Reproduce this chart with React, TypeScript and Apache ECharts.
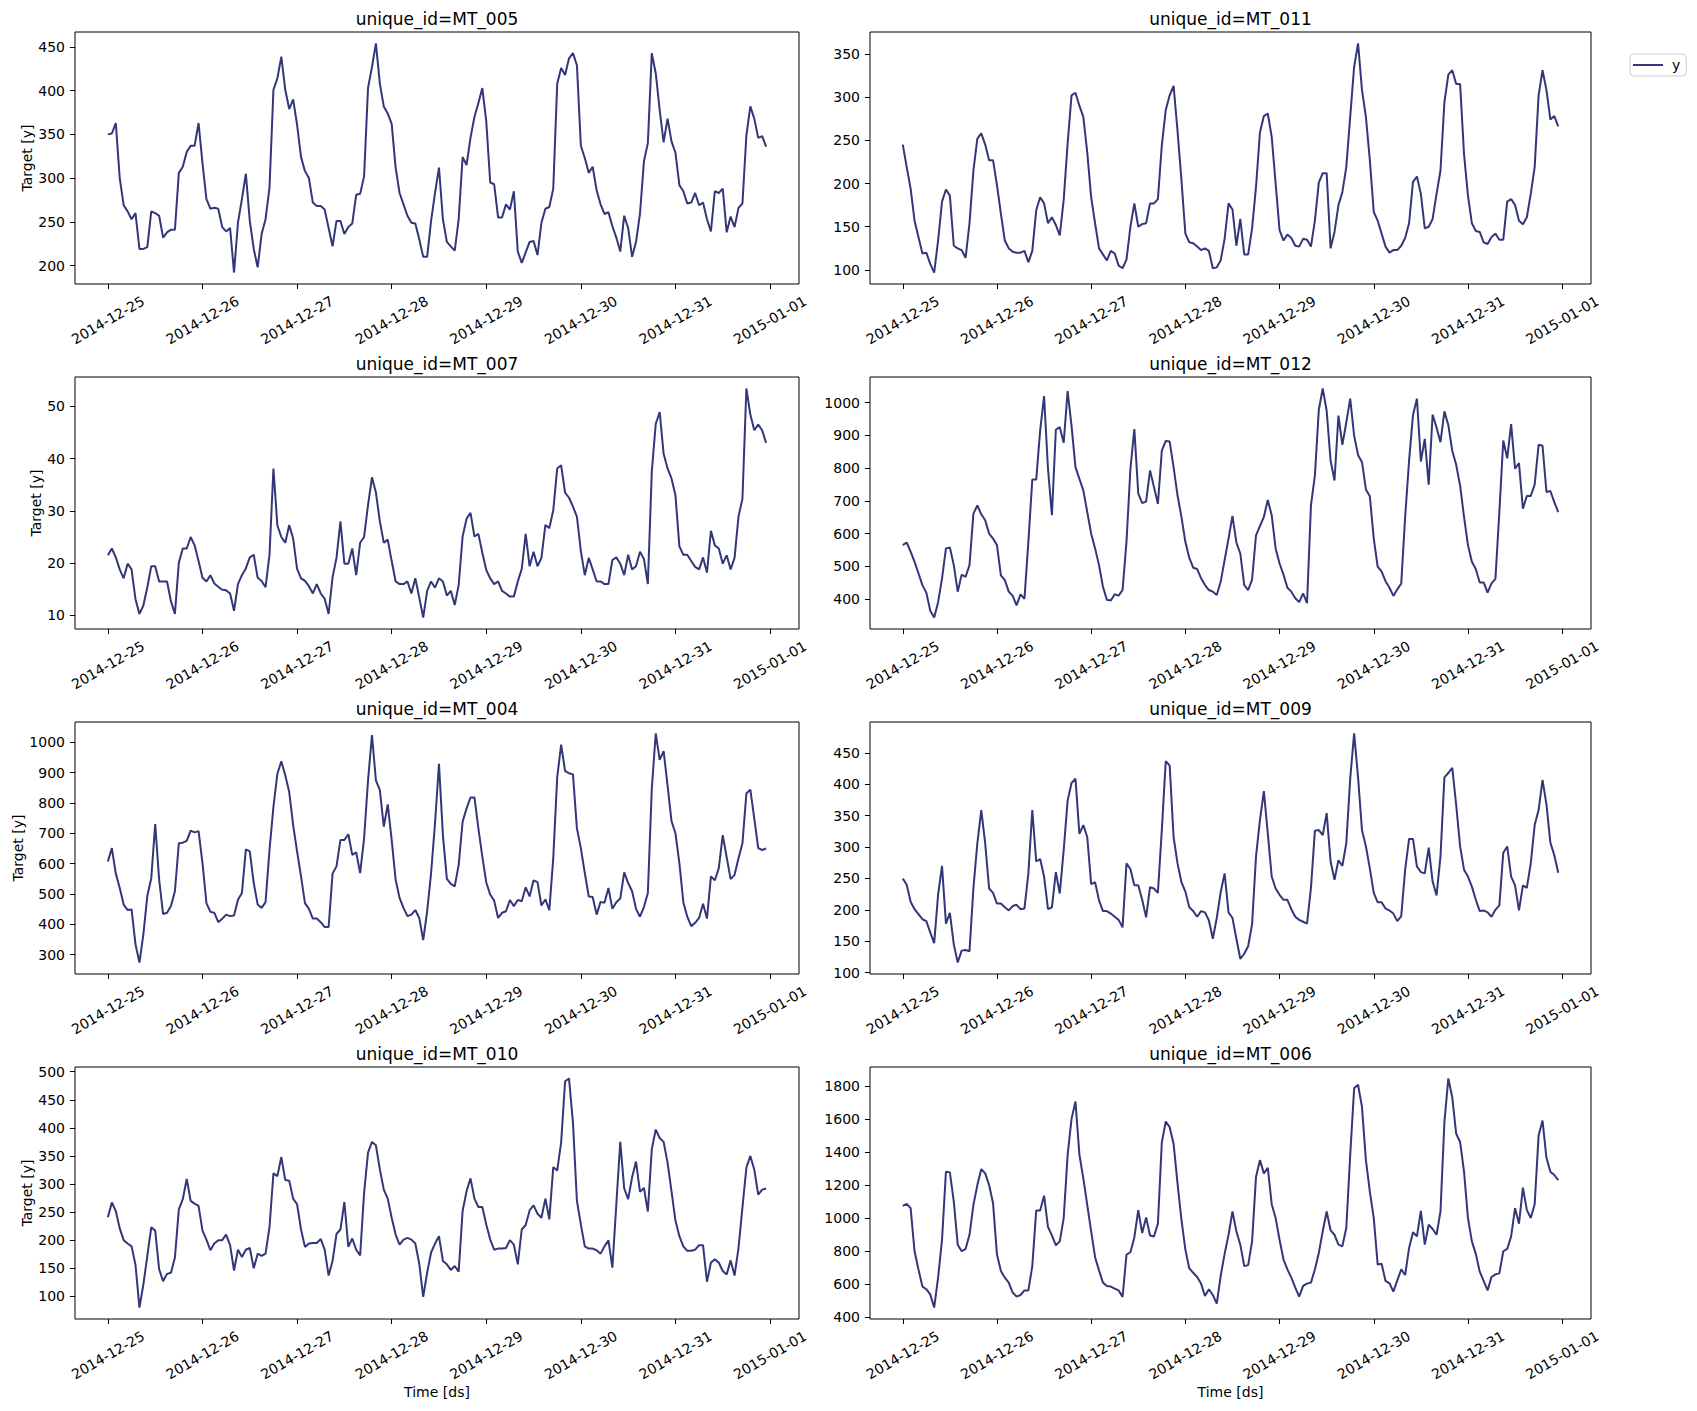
import React, { useEffect, useRef } from 'react';
import * as echarts from 'echarts';

// hourly values, 2014-12-25 00:00 .. 2014-12-31 23:00
const mt005 = [
  350, 351, 363, 300, 269, 262, 253, 260, 219, 219, 221, 262, 260, 257, 232, 238, 241, 241, 306, 313, 330, 337, 337, 363,
  317, 276, 265, 266, 265, 244, 239, 243, 192, 249, 276, 305, 251, 219, 198, 236, 253, 289, 401, 414, 439, 401, 379, 390,
  361, 324, 308, 300, 272, 268, 268, 264, 243, 222, 251, 251, 236, 244, 248, 281, 282, 302, 403, 427, 454, 408, 382, 374,
  362, 312, 283, 270, 257, 249, 248, 230, 210, 210, 251, 283, 312, 253, 227, 222, 217, 253, 324, 315, 346, 370, 386, 403,
  365, 295, 293, 255, 255, 270, 264, 285, 216, 203, 215, 227, 228, 212, 249, 265, 267, 288, 408, 426, 418, 437, 443, 429,
  337, 323, 306, 313, 286, 270, 259, 261, 245, 232, 216, 257, 243, 210, 227, 259, 319, 340, 443, 420, 378, 341, 368, 342,
  329, 292, 285, 271, 272, 283, 269, 272, 253, 239, 285, 283, 288, 238, 256, 244, 266, 271, 349, 382, 368, 346, 348, 336,
];
const mt011 = [
  245, 219, 194, 157, 138, 119, 120, 107, 97, 134, 179, 193, 186, 128, 125, 123, 114, 154, 215, 252, 258, 245, 227, 227,
  198, 165, 134, 125, 121, 120, 120, 122, 109, 122, 169, 184, 177, 154, 161, 152, 140, 181, 246, 302, 305, 290, 277, 236,
  184, 154, 125, 118, 111, 122, 119, 105, 102, 112, 150, 177, 150, 153, 154, 177, 177, 182, 244, 285, 302, 313, 261, 204,
  142, 132, 131, 127, 123, 125, 122, 102, 103, 111, 136, 177, 170, 128, 159, 118, 118, 148, 196, 259, 278, 281, 254, 200,
  146, 134, 141, 137, 128, 127, 136, 135, 127, 157, 201, 212, 212, 125, 144, 175, 190, 219, 277, 335, 362, 308, 277, 227,
  167, 157, 142, 127, 120, 123, 123, 128, 137, 154, 202, 208, 188, 148, 150, 159, 188, 215, 294, 326, 331, 315, 315, 234,
  186, 154, 145, 144, 132, 130, 138, 142, 135, 135, 179, 182, 175, 157, 153, 161, 188, 219, 302, 331, 308, 274, 278, 266,
];
const mt007 = [
  21.5, 22.8, 21.1, 18.8, 17.1, 19.9, 18.8, 13.1, 10.3, 11.9, 15.4, 19.4, 19.4, 16.5, 16.5, 16.5, 12.7, 10.3, 20.1, 22.8, 22.8, 25.0, 23.4, 20.4,
  17.2, 16.5, 17.7, 16.1, 15.5, 14.9, 14.8, 14.2, 10.9, 16.0, 17.7, 19.0, 21.1, 21.6, 17.2, 16.6, 15.4, 21.6, 38.1, 27.2, 25.0, 23.9, 27.3, 24.7,
  18.9, 17.1, 16.6, 15.6, 14.2, 16.0, 14.2, 13.2, 10.3, 17.3, 21.0, 28.0, 19.9, 19.9, 22.8, 17.7, 23.9, 25.0, 31.1, 36.4, 33.5, 28.0, 23.9, 24.5,
  20.4, 16.5, 16.0, 16.0, 16.5, 14.2, 17.1, 13.4, 9.6, 14.7, 16.5, 15.3, 17.1, 16.5, 13.8, 14.7, 12.0, 15.8, 25.1, 28.5, 29.6, 25.1, 25.6, 22.0,
  18.7, 17.1, 16.0, 16.5, 14.7, 14.2, 13.6, 13.6, 16.5, 18.9, 25.6, 19.4, 22.2, 19.4, 21.0, 27.3, 26.7, 30.1, 38.1, 38.7, 33.5, 32.5, 30.8, 28.9,
  22.3, 17.7, 21.0, 18.8, 16.5, 16.5, 16.0, 16.0, 20.6, 21.1, 19.9, 17.7, 21.6, 18.8, 19.4, 22.2, 20.8, 16.0, 37.5, 46.6, 48.9, 40.9, 38.1, 36.2,
  33.0, 23.2, 21.6, 21.6, 20.4, 19.3, 18.8, 21.1, 18.2, 26.2, 23.4, 22.8, 19.9, 21.5, 18.8, 21.0, 28.9, 32.3, 53.4, 48.4, 45.4, 46.5, 45.4, 43.0,
];
const mt012 = [
  565, 573, 545, 514, 479, 443, 420, 365, 344, 391, 463, 555, 558, 504, 423, 475, 468, 504, 661, 686, 659, 641, 600, 585,
  565, 473, 458, 423, 410, 381, 415, 401, 575, 765, 765, 914, 1020, 798, 656, 917, 925, 877, 1035, 929, 803, 767, 732, 666,
  600, 555, 504, 438, 398, 396, 415, 411, 428, 575, 798, 919, 722, 693, 698, 793, 742, 691, 853, 883, 881, 803, 717, 651,
  575, 526, 496, 492, 464, 443, 428, 423, 413, 453, 519, 585, 654, 573, 539, 443, 428, 460, 595, 623, 651, 703, 656, 555,
  509, 475, 435, 423, 403, 391, 418, 388, 686, 777, 978, 1043, 975, 823, 762, 960, 871, 939, 1012, 899, 840, 818, 735, 714,
  585, 499, 484, 455, 435, 410, 430, 448, 651, 823, 962, 1012, 820, 889, 749, 963, 924, 879, 973, 931, 853, 810, 747, 651,
  565, 514, 492, 451, 451, 420, 448, 462, 666, 884, 830, 934, 798, 815, 676, 715, 715, 750, 871, 868, 727, 730, 696, 666,
];
const mt004 = [
  607, 651, 567, 520, 465, 447, 449, 334, 274, 367, 494, 552, 730, 547, 434, 438, 460, 509, 667, 669, 675, 709, 703, 707,
  602, 470, 441, 438, 407, 418, 432, 427, 429, 481, 503, 647, 640, 536, 465, 454, 473, 645, 787, 896, 937, 891, 836, 727,
  640, 558, 470, 451, 419, 419, 407, 391, 391, 567, 591, 678, 678, 697, 629, 637, 569, 683, 874, 1024, 874, 842, 722, 795,
  678, 547, 487, 454, 427, 432, 447, 421, 348, 443, 569, 733, 929, 694, 550, 533, 525, 596, 738, 782, 818, 818, 716, 623,
  538, 498, 478, 421, 438, 443, 480, 460, 480, 476, 522, 492, 545, 539, 462, 482, 447, 618, 885, 992, 905, 898, 894, 716,
  651, 569, 492, 490, 432, 474, 471, 520, 451, 473, 485, 571, 536, 509, 451, 425, 457, 503, 847, 1029, 942, 971, 858, 740,
  700, 602, 473, 425, 394, 405, 421, 468, 419, 558, 545, 585, 694, 621, 549, 563, 618, 667, 831, 844, 749, 651, 645, 650,
];
const mt009 = [
  250, 240, 213, 201, 193, 185, 182, 164, 147, 224, 270, 178, 195, 145, 116, 135, 136, 134, 235, 306, 359, 306, 234, 227,
  210, 210, 204, 199, 206, 208, 201, 202, 258, 359, 277, 281, 253, 201, 204, 260, 226, 295, 374, 402, 409, 321, 335, 316,
  241, 244, 215, 198, 198, 194, 189, 184, 172, 274, 265, 239, 239, 216, 188, 236, 234, 227, 327, 437, 430, 316, 274, 244,
  229, 204, 198, 189, 198, 196, 183, 154, 187, 228, 258, 196, 187, 154, 122, 130, 142, 177, 285, 343, 389, 322, 253, 234,
  224, 216, 216, 201, 189, 184, 181, 178, 235, 326, 327, 319, 354, 277, 248, 279, 270, 306, 409, 481, 411, 327, 301, 266,
  227, 212, 212, 202, 199, 194, 182, 190, 264, 313, 313, 269, 260, 258, 299, 245, 223, 285, 411, 418, 426, 367, 301, 264,
  253, 237, 216, 198, 199, 196, 189, 200, 207, 291, 301, 253, 239, 199, 239, 235, 274, 335, 359, 407, 368, 307, 287, 259,
];
const mt010 = [
  241, 267, 252, 221, 200, 194, 189, 156, 80, 121, 172, 223, 217, 148, 127, 140, 142, 169, 255, 273, 309, 270, 265, 261,
  217, 201, 182, 194, 200, 200, 210, 191, 146, 183, 170, 183, 186, 150, 176, 172, 176, 223, 319, 314, 348, 307, 306, 274,
  264, 219, 188, 194, 195, 195, 202, 183, 137, 163, 211, 219, 268, 188, 203, 183, 173, 284, 356, 375, 369, 326, 290, 274,
  240, 210, 192, 201, 204, 201, 194, 158, 99, 142, 178, 194, 207, 163, 157, 147, 154, 144, 252, 287, 310, 274, 259, 259,
  228, 201, 183, 185, 185, 186, 200, 192, 157, 219, 227, 253, 262, 247, 240, 274, 237, 330, 324, 374, 483, 488, 409, 270,
  228, 189, 185, 185, 182, 176, 189, 200, 151, 264, 375, 292, 273, 312, 340, 286, 293, 251, 362, 397, 382, 375, 338, 287,
  235, 207, 189, 181, 181, 183, 191, 191, 126, 160, 166, 160, 145, 139, 164, 137, 186, 258, 329, 350, 326, 281, 290, 292,
];
const mt006 = [
  1076, 1088, 1062, 801, 691, 587, 571, 540, 460, 641, 871, 1283, 1279, 1102, 841, 801, 815, 901, 1082, 1202, 1299, 1273, 1202, 1092,
  781, 681, 641, 611, 551, 526, 536, 564, 564, 711, 1048, 1048, 1138, 948, 897, 837, 861, 1002, 1383, 1603, 1708, 1387, 1242, 1082,
  922, 765, 685, 611, 591, 587, 575, 564, 524, 781, 795, 885, 1050, 911, 1006, 897, 891, 968, 1459, 1587, 1553, 1453, 1212, 992,
  811, 697, 671, 645, 605, 530, 571, 536, 484, 651, 785, 901, 1042, 922, 841, 711, 717, 861, 1252, 1353, 1273, 1307, 1086, 1002,
  871, 751, 691, 641, 581, 526, 591, 605, 611, 691, 791, 922, 1042, 928, 901, 841, 831, 942, 1383, 1788, 1810, 1674, 1353, 1162,
  1002, 721, 725, 621, 607, 556, 625, 691, 657, 821, 916, 891, 1046, 841, 962, 936, 901, 1042, 1583, 1848, 1734, 1513, 1463, 1283,
  1002, 861, 785, 677, 621, 564, 645, 661, 667, 801, 815, 891, 1062, 968, 1186, 1052, 1002, 1086, 1503, 1593, 1367, 1283, 1263, 1232,
];

const dayLabels = ['2014-12-25', '2014-12-26', '2014-12-27', '2014-12-28', '2014-12-29', '2014-12-30', '2014-12-31', '2015-01-01'];

const yTicks005 = [200, 250, 300, 350, 400, 450];
const yTicks011 = [100, 150, 200, 250, 300, 350];
const yTicks007 = [10, 20, 30, 40, 50];
const yTicks012 = [400, 500, 600, 700, 800, 900, 1000];
const yTicks004 = [300, 400, 500, 600, 700, 800, 900, 1000];
const yTicks009 = [100, 150, 200, 250, 300, 350, 400, 450];
const yTicks010 = [100, 150, 200, 250, 300, 350, 400, 450, 500];
const yTicks006 = [400, 600, 800, 1000, 1200, 1400, 1600, 1800];

const panels = [
  { id: 'MT_005', values: mt005, ticks: yTicks005 },
  { id: 'MT_011', values: mt011, ticks: yTicks011 },
  { id: 'MT_007', values: mt007, ticks: yTicks007 },
  { id: 'MT_012', values: mt012, ticks: yTicks012 },
  { id: 'MT_004', values: mt004, ticks: yTicks004 },
  { id: 'MT_009', values: mt009, ticks: yTicks009 },
  { id: 'MT_010', values: mt010, ticks: yTicks010 },
  { id: 'MT_006', values: mt006, ticks: yTicks006 },
];

const LINE = '#33377a';
const FONT = 'DejaVu Sans';
const colLeft = [75, 870];
const colWidth = [724, 721];
const rowTop = [32, 377, 722, 1067];
const PLOT_H = 252;

export default function App() {
  const ref = useRef<HTMLDivElement | null>(null);

  useEffect(() => {
    document.body.style.margin = '0';
    if (!ref.current) return;
    const chart = echarts.init(ref.current, undefined, { renderer: 'svg' });
    const tickHours = dayLabels.map((_, d) => d * 24);
    const xPad = 167 * 0.05;

    chart.setOption({
      animation: false,
      backgroundColor: '#fff',
      textStyle: { fontFamily: FONT },
      legend: {
        data: ['y'], left: 1630, top: 54, orient: 'vertical', icon: 'rect',
        padding: [4, 6, 4, 3], itemWidth: 30, itemHeight: 2, itemGap: 0,
        borderColor: '#cccccc', borderWidth: 1, borderRadius: 4, backgroundColor: '#fff',
        textStyle: { fontSize: 14, color: '#000', fontFamily: FONT, padding: [0, 0, 0, 4] },
      },
      grid: panels.map((_, i) => ({
        left: colLeft[i % 2], top: rowTop[Math.floor(i / 2)], width: colWidth[i % 2], height: PLOT_H,
        show: true, borderColor: '#000', borderWidth: 1, backgroundColor: 'transparent',
        containLabel: false, outerBoundsMode: 'none',
      })),
      xAxis: panels.map((_, i) => ({
        type: 'value', gridIndex: i, min: -xPad, max: 167 + xPad,
        axisLine: { show: false, onZero: false }, splitLine: { show: false },
        axisTick: { show: true, length: 5, customValues: tickHours, lineStyle: { color: '#000', width: 1 } },
        axisLabel: {
          customValues: tickHours, formatter: (v: number) => dayLabels[Math.round(v / 24)] ?? '',
          rotate: 30, align: 'center', verticalAlign: 'middle', margin: 36,
          fontSize: 14, color: '#000', fontFamily: FONT,
        },
        name: Math.floor(i / 2) === 3 ? 'Time [ds]' : '',
        nameLocation: 'middle', nameGap: 66,
        nameTextStyle: { fontSize: 14, color: '#000', fontFamily: FONT },
      })),
      yAxis: panels.map((p, i) => {
        const lo = Math.min(...p.values);
        const hi = Math.max(...p.values);
        const pad = (hi - lo) * 0.05;
        const digits = String(Math.max(...p.ticks)).length;
        return {
          type: 'value', gridIndex: i, min: lo - pad, max: hi + pad,
          axisLine: { show: false, onZero: false }, splitLine: { show: false },
          axisTick: { show: true, length: 5, customValues: p.ticks, lineStyle: { color: '#000', width: 1 } },
          axisLabel: {
            customValues: p.ticks, formatter: (v: number) => String(v), margin: 10,
            fontSize: 14, color: '#000', fontFamily: FONT,
          },
          name: i % 2 === 0 ? 'Target [y]' : '',
          nameLocation: 'middle', nameGap: 13 + 9 * digits,
          nameTextStyle: { fontSize: 14, color: '#000', fontFamily: FONT },
        };
      }),
      series: panels.map((p, i) => ({
        type: 'line', name: 'y', xAxisIndex: i, yAxisIndex: i,
        data: p.values.map((v, h) => [h, v]),
        symbol: 'none', lineStyle: { color: LINE, width: 2 }, itemStyle: { color: LINE },
      })),
      graphic: panels.map((p, i) => ({
        type: 'text',
        x: colLeft[i % 2] + colWidth[i % 2] / 2,
        y: rowTop[Math.floor(i / 2)] - 13.5,
        style: {
          text: 'unique_id=' + p.id, fill: '#000', fontSize: 17, fontFamily: FONT,
          align: 'center', verticalAlign: 'middle',
        },
      })),
    });

    return () => { chart.dispose(); };
  }, []);

  return <div ref={ref} style={{ width: 1697, height: 1411 }} />;
}
